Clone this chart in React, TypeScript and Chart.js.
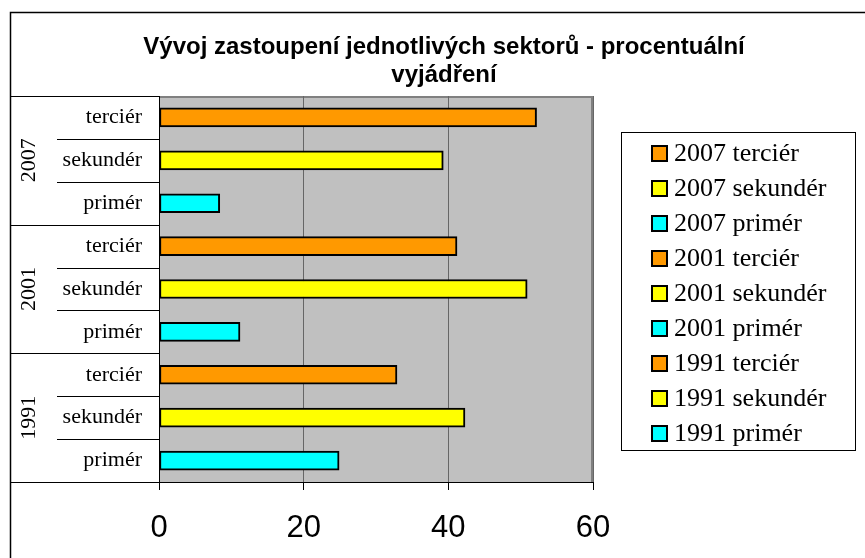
import React, { useEffect, useRef } from 'react';
import { Chart, registerables } from 'chart.js';

Chart.register(...registerables);

const titleLines = ['Vývoj zastoupení jednotlivých sektorů - procentuální', 'vyjádření'];
const years = ['2007', '2001', '1991'];
const sectors = ['terciér', 'sekundér', 'primér'];
const categories = ['terciér', 'sekundér', 'primér', 'terciér', 'sekundér', 'primér', 'terciér', 'sekundér', 'primér'];
const values = [52.2, 39.3, 8.4, 41.2, 50.9, 11.2, 32.9, 42.3, 24.9];
const sectorColors = ['#FF9900', '#FFFF00', '#00FFFF'];
const xMin = 0;
const xMax = 60;
const xStep = 20;

const legendLabels: string[] = [];
const legendColors: string[] = [];
years.forEach((y) => sectors.forEach((s, j) => { legendLabels.push(y + ' ' + s); legendColors.push(sectorColors[j]); }));

const barColors = categories.map((c) => sectorColors[sectors.indexOf(c)]);

const SERIF = '"Liberation Serif", "Times New Roman", serif';
const SANS = '"Liberation Sans", Arial, sans-serif';

const decor = {
  id: 'decor',
  beforeDraw(chart: any) {
    const { ctx, chartArea: a } = chart;
    ctx.save();
    ctx.fillStyle = '#fff';
    ctx.fillRect(0, 0, chart.width, chart.height);
    ctx.fillStyle = '#C0C0C0';
    ctx.fillRect(a.left, a.top, a.right - a.left, a.bottom - a.top);
    ctx.strokeStyle = '#808080';
    ctx.lineWidth = 2;
    ctx.beginPath();
    ctx.moveTo(a.left, a.top + 1);
    ctx.lineTo(a.right - 1, a.top + 1);
    ctx.lineTo(a.right - 1, a.bottom);
    ctx.stroke();
    ctx.restore();
  },
  afterDraw(chart: any) {
    const { ctx, chartArea: a } = chart;
    const ys = chart.scales.y;
    ctx.save();
    // outer chart border (extends beyond the picture on right/bottom)
    ctx.strokeStyle = '#000';
    ctx.lineWidth = 1.5;
    ctx.beginPath();
    ctx.moveTo(865, 12.5);
    ctx.lineTo(10.5, 12.5);
    ctx.lineTo(10.5, 558);
    ctx.stroke();

    // category separators
    const n = categories.length;
    const bound = (i: number) => {
      if (i === 0) return a.top;
      if (i === n) return a.bottom;
      return (ys.getPixelForValue(i - 1) + ys.getPixelForValue(i)) / 2;
    };
    ctx.lineWidth = 1;
    ctx.strokeStyle = '#000';
    for (let i = 0; i <= n; i++) {
      const y = Math.round(bound(i)) + 0.5;
      const x0 = i % 3 === 0 ? 10 : 57;
      ctx.beginPath();
      ctx.moveTo(x0, y);
      ctx.lineTo(a.left, y);
      ctx.stroke();
    }

    // year group labels
    ctx.fillStyle = '#000';
    ctx.font = '22px ' + SERIF;
    ctx.textAlign = 'center';
    ctx.textBaseline = 'middle';
    years.forEach((yr, g) => {
      const cy = ys.getPixelForValue(g * 3 + 1);
      ctx.save();
      ctx.translate(28, cy);
      ctx.rotate(-Math.PI / 2);
      ctx.fillText(yr, 0, 1);
      ctx.restore();
    });

    // title
    ctx.font = 'bold 24px ' + SANS;
    ctx.textAlign = 'center';
    ctx.textBaseline = 'middle';
    ctx.fillText(titleLines[0], 444, 47);
    ctx.fillText(titleLines[1], 444, 75);

    // legend
    ctx.strokeStyle = '#000';
    ctx.lineWidth = 1;
    ctx.strokeRect(621.5, 132.5, 234, 318);
    ctx.font = '26px ' + SERIF;
    ctx.textAlign = 'left';
    ctx.textBaseline = 'middle';
    legendLabels.forEach((lbl, i) => {
      const cy = 153 + 35 * i;
      const x0 = 651;
      const y0 = Math.round(cy - 8.5);
      ctx.fillStyle = legendColors[i];
      ctx.fillRect(x0 + 1, y0 + 1, 15, 15);
      ctx.lineWidth = 2;
      ctx.strokeStyle = '#000';
      ctx.strokeRect(x0 + 1, y0 + 1, 15, 15);
      ctx.fillStyle = '#000';
      ctx.fillText(lbl, 674, cy + 1);
    });
    ctx.restore();
  },
};

export default function App() {
  const ref = useRef<HTMLCanvasElement | null>(null);
  useEffect(() => {
    if (!ref.current) return;
    const chart = new Chart(ref.current, {
      type: 'bar',
      data: {
        labels: categories,
        datasets: [
          {
            label: 'podíl',
            data: values,
            backgroundColor: barColors,
            borderColor: '#000',
            borderWidth: 2,
            borderSkipped: false,
            barThickness: 19,
          },
        ],
      },
      options: {
        indexAxis: 'y',
        responsive: false,
        animation: false,
        devicePixelRatio: 1,
        layout: { padding: { top: 96, right: 272, bottom: 0, left: 0 } },
        plugins: {
          legend: { display: false },
          title: { display: false },
          tooltip: { enabled: false },
        },
        scales: {
          x: {
            type: 'linear',
            min: xMin,
            max: xMax,
            ticks: { stepSize: xStep, color: '#000', font: { family: SANS, size: 31 }, padding: 20 },
            grid: { color: '#666', tickColor: '#000', tickLength: 8, lineWidth: 1 },
            border: { color: '#000', width: 1 },
            afterFit: (s: any) => { s.height = 76; },
          },
          y: {
            type: 'category',
            ticks: { color: '#000', font: { family: SERIF, size: 22 }, padding: 17 },
            grid: { display: false, drawTicks: false },
            border: { display: true, color: '#000', width: 1 },
            afterFit: (s: any) => { s.width = 159; },
          },
        },
      },
      plugins: [decor],
    } as any);
    return () => chart.destroy();
  }, []);
  return (
    <div style={{ position: 'absolute', left: 0, top: 0, width: 865, height: 558, background: '#fff' }}>
      <canvas ref={ref} width={865} height={558} style={{ display: 'block' }} />
    </div>
  );
}
